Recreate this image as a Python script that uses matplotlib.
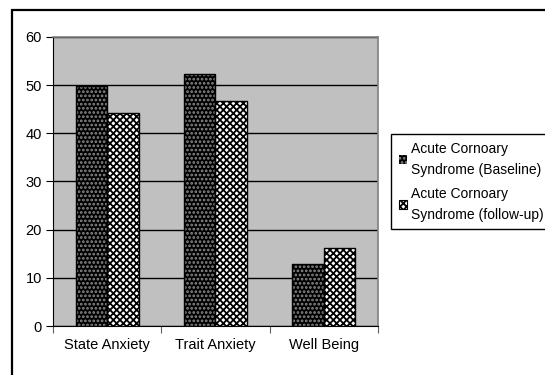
import matplotlib
matplotlib.use('Agg')
import matplotlib.pyplot as plt
from matplotlib.patches import Patch, Rectangle
import numpy as np

categories = ['State Anxiety', 'Trait Anxiety', 'Well Being']
baseline = [49.8, 52.4, 12.8]
follow_up = [44.2, 46.8, 16.2]
labels = ['Acute Cornoary\nSyndrome (Baseline)', 'Acute Cornoary\nSyndrome (follow-up)']
y_ticks = [0, 10, 20, 30, 40, 50, 60]

plt.rcParams['font.family'] = ['Liberation Sans', 'DejaVu Sans']
plt.rcParams['font.size'] = 10.5
plt.rcParams['hatch.linewidth'] = 1.3

fig = plt.figure(figsize=(5.45, 3.75), dpi=100)
ax = fig.add_axes([53/545, 1 - 326/375, (378 - 53)/545, (326 - 37)/375])
ax.set_facecolor('#c0c0c0')

x = np.arange(len(categories))
w = 0.29

# baseline: black with fine grey dots
ax.bar(x - w/2, baseline, w, color='black', edgecolor='#8c8c8c', hatch='....', linewidth=0, zorder=3)
ax.bar(x - w/2, baseline, w, fill=False, edgecolor='black', linewidth=1, zorder=4)
# follow-up: checkerboard-ish
ax.bar(x + w/2, follow_up, w, color='white', edgecolor='black', hatch='xxxxx', linewidth=0, zorder=3)
ax.bar(x + w/2, follow_up, w, fill=False, edgecolor='black', linewidth=1, zorder=4)

ax.set_xlim(-0.5, 2.5)
ax.set_ylim(0, 60)
ax.set_yticks(y_ticks)
ax.yaxis.grid(True, color='black', linewidth=1)
ax.set_axisbelow(True)

ax.set_xticks([-0.5, 0.5, 1.5, 2.5])
ax.set_xticklabels([])
ax.set_xticks(x, minor=True)
ax.set_xticklabels(categories, minor=True)
ax.tick_params(axis='x', which='minor', length=0, pad=9)
ax.tick_params(axis='x', which='major', length=5, direction='out', color='#606060')
ax.tick_params(axis='y', length=5, direction='out', pad=3)

for s in ['top', 'right']:
    ax.spines[s].set_color('#808080')
    ax.spines[s].set_linewidth(1.2)
ax.spines['left'].set_color('black')
ax.spines['bottom'].set_color('black')

# outer chart border (only top and left visible in the crop)
fig.patches.append(Rectangle((12/545, -0.1), 1.2, 1 - 10/375 + 0.1, transform=fig.transFigure,
                             fill=False, edgecolor='black', linewidth=1.6))

handles = [Patch(facecolor='black', edgecolor='#8c8c8c', hatch='....', linewidth=0),
           Patch(facecolor='white', edgecolor='black', hatch='xxxxx', linewidth=0.8)]
leg = fig.legend(handles, labels, loc='upper left', bbox_to_anchor=(391/545, 1 - 134/375),
                 frameon=True, fancybox=False, edgecolor='black', framealpha=1,
                 fontsize=10, handlelength=0.6, handleheight=0.6, handletextpad=0.3,
                 borderpad=0.55, labelspacing=0.7, borderaxespad=0)
leg.get_frame().set_linewidth(1)
for t in leg.get_texts():
    t.set_linespacing(1.65)

fig.savefig('out.png', dpi=100)
